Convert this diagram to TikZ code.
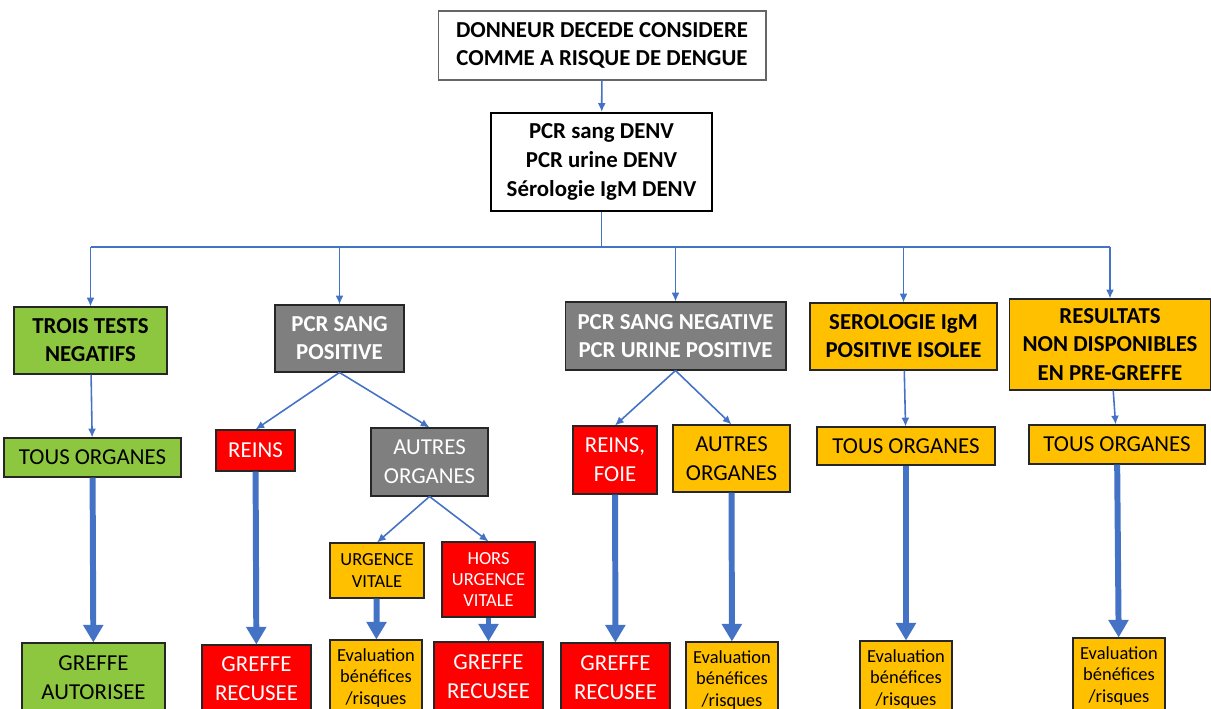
\documentclass[tikz,border=0pt]{standalone}
\usepackage{fontspec}
\setmainfont{Carlito}
\usetikzlibrary{arrows.meta,positioning,calc}
\definecolor{lienbleu}{RGB}{68,114,196}
\definecolor{vertok}{RGB}{141,198,63}
\definecolor{grisbox}{RGB}{127,127,127}
\definecolor{rougebox}{RGB}{255,0,0}
\definecolor{jaunebox}{RGB}{255,192,0}
\tikzset{>={Latex[length=5pt,width=4.5pt]}}
\tikzset{box/.style={draw=black!85, line width=0.6pt, align=center, inner sep=0pt,
    font=\fontsize{13}{16.5}\selectfont}}
\tikzset{entete/.style={font=\fontsize{13}{16}\selectfont\bfseries}}
\tikzset{petit/.style={font=\fontsize{10.5}{12}\selectfont}}
\tikzset{vert/.style={box, fill=vertok},
  gris/.style={box, fill=grisbox, text=white},
  rouge/.style={box, fill=rougebox, text=white},
  jaune/.style={box, fill=jaunebox}}
\tikzset{lien/.style={draw=lienbleu, line width=0.9pt, ->}}
\tikzset{gros/.style={draw=lienbleu, line width=3.4pt, -{Triangle[length=10pt,width=11pt]}}}

\begin{document}
\begin{tikzpicture}[x=0.02cm, y=-0.02cm]
  \useasboundingbox (0,0) rectangle (1211,709);
  % tests
  \node[box, entete, draw=black!60, minimum width=6.56cm, minimum height=1.38cm]
    (donneur) at (602,45.5) {DONNEUR DECEDE CONSIDERE\\COMME A RISQUE DE DENGUE};
  \node[box, entete, draw=black, line width=1.2pt, minimum width=4.42cm, minimum height=1.96cm,
    font=\fontsize{13}{16.5}\selectfont\bfseries]
    (tests) at (601.5,162) {PCR sang DENV\\PCR urine DENV\\Sérologie IgM DENV};
  % resultats
  \node[vert, entete, minimum width=3.06cm, minimum height=1.34cm]
    (negatifs) at (90.5,340.5) {TROIS TESTS\\NEGATIFS};
  \node[gris, entete, minimum width=2.58cm, minimum height=1.34cm]
    (sangpos) at (339.5,338.5) {PCR SANG\\POSITIVE};
  \node[gris, entete, minimum width=4.42cm, minimum height=1.36cm]
    (urinepos) at (675.5,336) {PCR SANG NEGATIVE\\PCR URINE POSITIVE};
  \node[jaune, entete, minimum width=3.74cm, minimum height=1.34cm]
    (igm) at (903.5,336.5) {SEROLOGIE IgM\\POSITIVE ISOLEE};
  \node[jaune, entete, minimum width=4.04cm, minimum height=1.82cm]
    (nondispo) at (1110,344.5) {RESULTATS\\NON DISPONIBLES\\EN PRE-GREFFE};
  % organes
  \node[vert, minimum width=3.54cm, minimum height=0.78cm]
    (tousA) at (92.5,457.5) {TOUS ORGANES};
  \node[rouge, minimum width=1.58cm, minimum height=0.82cm]
    (reins) at (255.5,450.5) {REINS};
  \node[gris, minimum width=2.34cm, minimum height=1.36cm]
    (autresA) at (429.5,462) {AUTRES\\ORGANES};
  \node[rouge, minimum width=1.68cm, minimum height=1.36cm]
    (reinsfoie) at (615,460) {REINS,\\FOIE};
  \node[jaune, minimum width=2.34cm, minimum height=1.34cm]
    (autresB) at (731.5,458.5) {AUTRES\\ORGANES};
  \node[jaune, minimum width=3.56cm, minimum height=0.76cm]
    (tousB) at (906,446) {TOUS ORGANES};
  \node[jaune, minimum width=3.52cm, minimum height=0.78cm]
    (tousC) at (1117,444.5) {TOUS ORGANES};
  \node[jaune, petit, minimum width=1.88cm, minimum height=1.1cm]
    (urgence) at (377,570.5) {URGENCE\\VITALE};
  \node[rouge, petit, minimum width=1.86cm, minimum height=1.5cm]
    (horsurg) at (488.5,579.5) {HORS\\URGENCE\\VITALE};
  % decisions
  \node[vert, minimum width=2.86cm, minimum height=1.4cm]
    (autorisee) at (93.5,678) {GREFFE\\AUTORISEE};
  \node[rouge, minimum width=2.18cm, minimum height=1.36cm]
    (recuseeA) at (256.5,679) {GREFFE\\RECUSEE};
  \node[jaune, petit, minimum width=1.84cm, minimum height=1.52cm]
    (evalA) at (376,678) {Evaluation\\bénéfices\\/risques};
  \node[rouge, minimum width=2.18cm, minimum height=1.4cm]
    (recuseeB) at (488.5,677) {GREFFE\\RECUSEE};
  \node[rouge, minimum width=2.18cm, minimum height=1.4cm]
    (recuseeC) at (615.5,678) {GREFFE\\RECUSEE};
  \node[jaune, petit, minimum width=1.84cm, minimum height=1.52cm]
    (evalB) at (732,680) {Evaluation\\bénéfices\\/risques};
  \node[jaune, petit, minimum width=1.84cm, minimum height=1.52cm]
    (evalC) at (906,679) {Evaluation\\bénéfices\\/risques};
  \node[jaune, petit, minimum width=1.84cm, minimum height=1.52cm]
    (evalD) at (1119,676) {Evaluation\\bénéfices\\/risques};

  % liens
  \coordinate (bus) at (601.5,247);
  \draw[lien] (donneur) -- (tests);
  \draw[lienbleu, line width=0.9pt] (tests.south) -- (bus);
  \draw[lienbleu, line width=0.9pt] (bus -| negatifs) -- (bus -| nondispo);
  \foreach \n in {negatifs, sangpos, urinepos, igm, nondispo}
    \draw[lien] (bus -| \n.north) -- (\n.north);
  \draw[lien] (negatifs) -- (tousA);
  \draw[lien] (igm) -- (tousB);
  \draw[lien] (nondispo) -- (tousC);
  \draw[lien] (sangpos.south) -- (reins.north);
  \draw[lien] (sangpos.south) -- (autresA.north);
  \draw[lien] (urinepos.south) -- (reinsfoie.north);
  \draw[lien] (urinepos.south) -- (autresB.north);
  \draw[lien] (autresA.south) -- (urgence.north);
  \draw[lien] (autresA.south) -- (horsurg.north);
  \draw[gros] (tousA) -- (autorisee);
  \draw[gros] (reins) -- (recuseeA);
  \draw[gros] (urgence) -- (evalA);
  \draw[gros] (horsurg) -- (recuseeB);
  \draw[gros] (reinsfoie) -- (recuseeC);
  \draw[gros] (autresB) -- (evalB);
  \draw[gros] (tousB) -- (evalC);
  \draw[gros] (tousC) -- (evalD);
\end{tikzpicture}
\end{document}
